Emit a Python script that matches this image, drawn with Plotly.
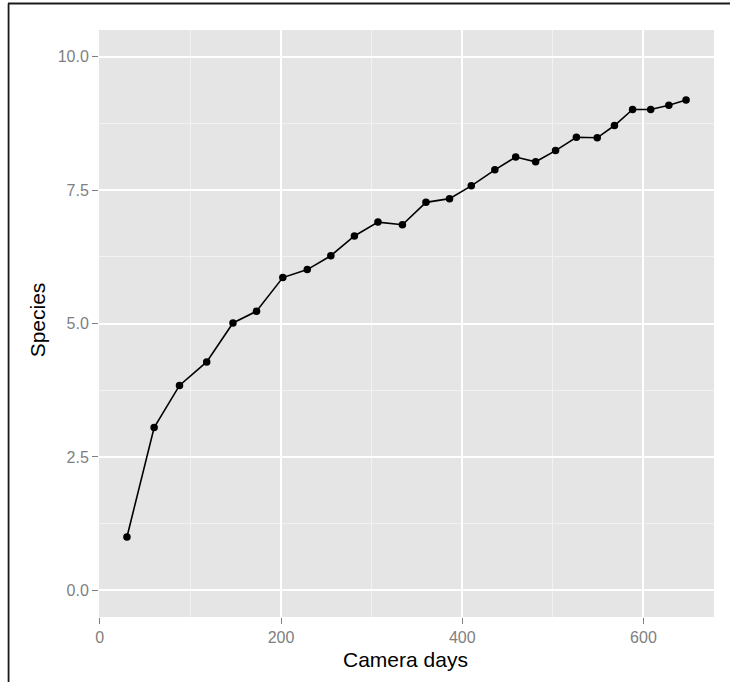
import plotly.graph_objects as go

# Cumulative species count by sampling effort
camera_days = [30, 60, 88, 118, 147, 173, 202, 229, 255, 281, 307, 334, 360,
               386, 410, 436, 459, 481, 503, 526, 549, 568, 588, 608, 628, 647]
species = [1.0, 3.05, 3.84, 4.28, 5.01, 5.23, 5.86, 6.01, 6.27, 6.64, 6.90, 6.85, 7.27,
           7.34, 7.58, 7.88, 8.12, 8.03, 8.24, 8.49, 8.48, 8.71, 9.01, 9.01, 9.09, 9.19]

x_ticks = [0, 200, 400, 600]
y_ticks = [0.0, 2.5, 5.0, 7.5, 10.0]

W, H = 730, 682
L, R, T, B = 98.5, 16, 30, 64.6
pw, ph = W - L - R, H - T - B


def px(xp):
    return (xp - L) / pw


def py(yp):
    return (H - B - yp) / ph


FONT = "Liberation Sans, Arial, sans-serif"
GREY = "#7f7f7f"

fig = go.Figure(go.Scatter(
    x=camera_days, y=species, mode="lines+markers",
    line=dict(color="black", width=1.6),
    marker=dict(color="black", size=7.5),
    hoverinfo="skip",
))

axis_common = dict(
    showgrid=True, gridcolor="white", gridwidth=1.6,
    zeroline=False, showline=False,
    ticks="outside", ticklen=6, tickwidth=1, tickcolor=GREY,
    tickfont=dict(family=FONT, size=16, color=GREY),
)

fig.update_layout(
    width=W, height=H,
    margin=dict(l=L, r=R, t=T, b=B, pad=0),
    paper_bgcolor="white", plot_bgcolor="#e5e5e5",
    showlegend=False,
    xaxis=dict(range=[-0.85, 677.85], tickvals=x_ticks,
               ticktext=[str(v) for v in x_ticks],
               minor=dict(showgrid=True, gridcolor="#f2f2f2", gridwidth=0.8,
                          tickvals=[100, 300, 500], ticks=""),
               **axis_common),
    yaxis=dict(range=[-0.5, 10.5], tickvals=y_ticks,
               ticktext=[f"{v:.1f}" for v in y_ticks],
               minor=dict(showgrid=True, gridcolor="#f2f2f2", gridwidth=0.8,
                          tickvals=[1.25, 3.75, 6.25, 8.75], ticks=""),
               **axis_common),
    annotations=[
        dict(text="Camera days", xref="paper", yref="paper",
             x=px(405.5), y=py(660), xanchor="center", yanchor="middle",
             showarrow=False, font=dict(family=FONT, size=21, color="black")),
        dict(text="Species", xref="paper", yref="paper",
             x=px(37), y=py(320), xanchor="center", yanchor="middle",
             textangle=-90, showarrow=False,
             font=dict(family=FONT, size=21, color="black")),
    ],
    shapes=[
        # outer frame: top and left edges
        dict(type="line", xref="paper", yref="paper",
             x0=px(7.5), x1=px(745), y0=py(3.5), y1=py(3.5),
             line=dict(color="#1a1a1a", width=1.8), layer="above"),
        dict(type="line", xref="paper", yref="paper",
             x0=px(8), x1=px(8), y0=py(3.5), y1=py(690),
             line=dict(color="#1a1a1a", width=1.8), layer="above"),
    ],
)

fig.write_html("out.html", config={"displayModeBar": False})
